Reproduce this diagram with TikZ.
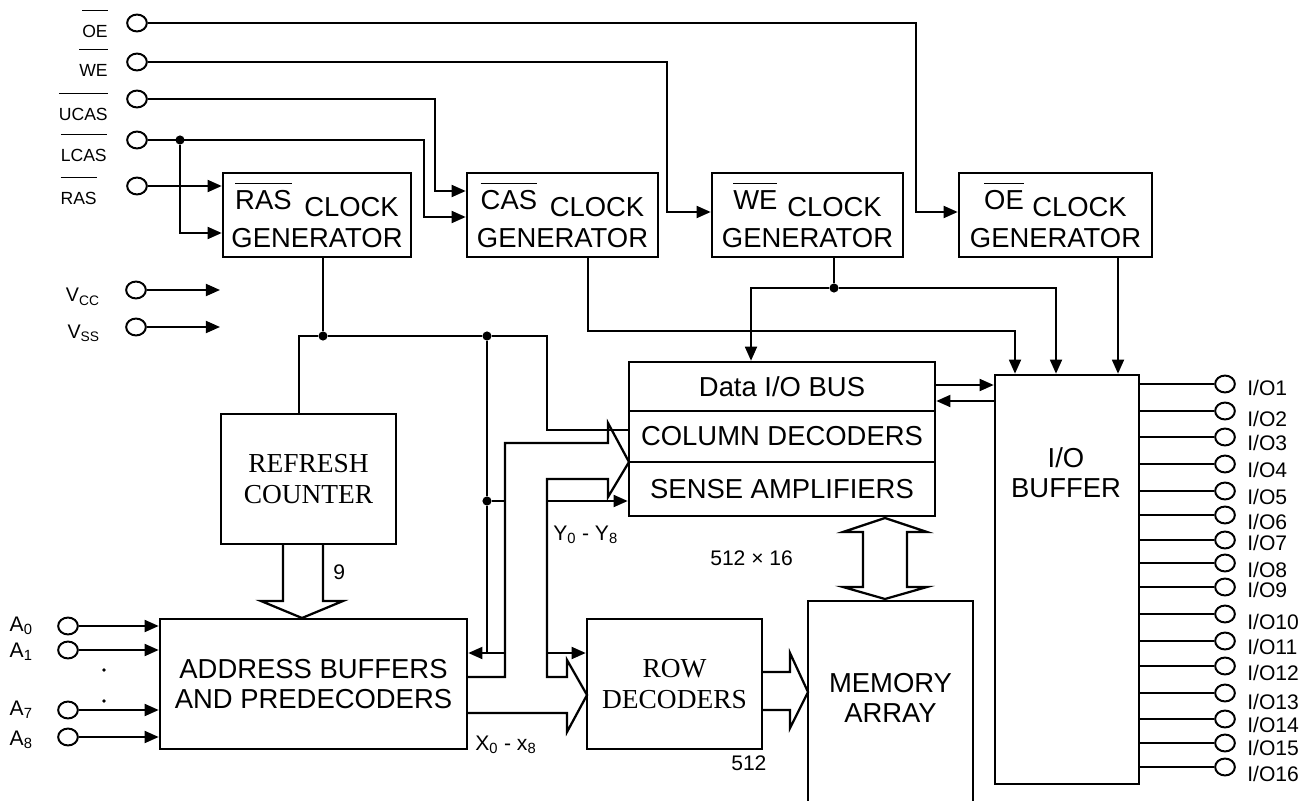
\documentclass[tikz,border=0pt]{standalone}
\usepackage{fontspec}
\setmainfont{Liberation Sans}
\newfontfamily\serifface{Liberation Serif}
\usetikzlibrary{arrows.meta,calc,shapes.geometric}

\newcommand{\ovl}[2][4.5pt]{\vbox{\hrule height 0.9pt\kern#1\hbox{#2}}}
\newcommand{\bigtxt}{\fontsize{19.5}{21.5}\selectfont}
\newcommand{\midtxt}{\fontsize{15}{17}\selectfont}
\newcommand{\sigtxt}{\fontsize{12.5}{14}\selectfont}

\begin{document}
\begin{tikzpicture}[x=0.025cm,y=-0.025cm,
  blk/.style={rectangle,draw,line width=1.8pt,inner sep=0pt,align=center,font=\bigtxt},
  serifblk/.style={blk,font=\serifface\bigtxt},
  pin/.style={ellipse,draw,line width=1.4pt,minimum width=14pt,minimum height=12pt,inner sep=0pt},
  wire/.style={line width=1.4pt},
  arrow/.style={wire,-{Triangle[length=10pt,width=8.5pt]}},
  bus/.style={line width=1.6pt,line join=miter},
  dot/.style={circle,fill,inner sep=0pt,minimum size=6.5pt},
  lbl/.style={inner sep=0pt,font=\midtxt},
  siglbl/.style={inner sep=0pt,font=\sigtxt,anchor=base east}]

\useasboundingbox (0,0) rectangle (1310,801);

% clock generators
\node[blk,minimum width=4.7cm,minimum height=2.1cm] (rasclk) at (317,215)
  {\raisebox{5.5pt}{\ovl{RAS}}\hspace{9pt}CLOCK\\GENERATOR};
\node[blk,minimum width=4.775cm,minimum height=2.1cm] (casclk) at (562.5,215)
  {\raisebox{5.5pt}{\ovl{CAS}}\hspace{9pt}CLOCK\\GENERATOR};
\node[blk,minimum width=4.775cm,minimum height=2.1cm] (weclk) at (807.5,215)
  {\raisebox{5.5pt}{\ovl{WE}}\hspace{7pt}CLOCK\\GENERATOR};
\node[blk,minimum width=4.825cm,minimum height=2.1cm] (oeclk) at (1055.5,215)
  {\raisebox{5.5pt}{\ovl{OE}}\hspace{6pt}CLOCK\\GENERATOR};

% data path blocks
\node[blk,minimum width=7.65cm,minimum height=1.225cm] (dataio) at (782,386.5) {Data I/O BUS};
\node[blk,minimum width=7.65cm,minimum height=1.275cm] (coldec) at (782,436.5) {COLUMN DECODERS};
\node[blk,minimum width=7.65cm,minimum height=1.35cm] (sense) at (782,489) {SENSE AMPLIFIERS};
\node[blk,minimum width=3.6cm,minimum height=10.225cm] (iobuf) at (1067,579.5) {};
\node[font=\bigtxt,align=center,inner sep=0pt] (iobuftxt) at (1066,473) {I/O\\BUFFER};
\node[serifblk,minimum width=4.375cm,minimum height=3.25cm] (refresh) at (308.5,479) {REFRESH\\COUNTER};
\node[blk,minimum width=7.675cm,minimum height=3.25cm] (addr) at (313.5,684) {ADDRESS BUFFERS\\AND PREDECODERS};
\node[serifblk,minimum width=4.375cm,minimum height=3.25cm] (rowdec) at (674.5,684) {ROW\\DECODERS};
\node[font=\bigtxt,align=center,inner sep=0pt] (mem) at (890.5,698) {MEMORY\\ARRAY};
\draw[line width=1.8pt] (808,801) -- (808,601) -- (973,601) -- (973,801);

% control inputs
\foreach \s/\y in {OE/23,WE/62,UCAS/99,LCAS/140,RAS/186}
  \node[pin] (p\s) at (137,\y) {};
\foreach \s/\x/\b in {OE/108/38,WE/108/77,UCAS/108/121,LCAS/107/162,RAS/97/205}
  \node[siglbl] (l\s) at (\x,\b) {\ovl[10.5pt]{\s}};

\coordinate (bOE) at (916,212);
\coordinate (bWE) at (667,212);
\coordinate (bUC) at (435,191);
\coordinate (bLC) at (424,217);
\coordinate (bRL) at (180,233);
\node[dot] (jL) at (180,140) {};
\draw[arrow] (pOE) -| (bOE) -- (oeclk.west |- bOE);
\draw[arrow] (pWE) -| (bWE) -- (weclk.west |- bWE);
\draw[arrow] (pUCAS) -| (bUC) -- (casclk.west |- bUC);
\draw[arrow] (pLCAS) -| (bLC) -- (casclk.west |- bLC);
\draw[arrow] (jL) -- (bRL) -- (rasclk.west |- bRL);
\draw[arrow] (pRAS) -- (rasclk.west |- pRAS);

% supply pins
\node[pin] (pVCC) at (136,290) {};
\node[pin] (pVSS) at (136,327) {};
\node[lbl,anchor=base east,font=\fontsize{14}{16}\selectfont] (lVCC) at (100,302) {V\textsubscript{CC}};
\node[lbl,anchor=base east,font=\fontsize{14}{16}\selectfont] (lVSS) at (100,338) {V\textsubscript{SS}};
\coordinate (eVCC) at (220,290);
\coordinate (eVSS) at (220,327);
\draw[arrow] (pVCC) -- (eVCC);
\draw[arrow] (pVSS) -- (eVSS);

% address pins
\foreach \n/\y/\b in {0/626/631,1/650/657,7/710/715,8/737/745} {
  \node[pin] (pA\n) at (68,\y) {};
  \node[lbl,anchor=base east] (lA\n) at (33,\b) {A\textsubscript{\n}};
  \draw[arrow] (pA\n) -- (addr.west |- pA\n);
}
\node[dot,minimum size=2.5pt] (ad1) at (104,670) {};
\node[dot,minimum size=2.5pt] (ad2) at (104,701) {};

% RAS clock distribution
\node[dot] (jR1) at (323,336) {};
\node[dot] (jR2) at (487,336) {};
\node[dot] (jR3) at (487,501) {};
\coordinate (bCD) at (547,430);
\coordinate (bAB) at (487,653);
\coordinate (bAB2) at (505,653);
\coordinate (bJS) at (506,501);
\coordinate (bSA) at (547,501);
\coordinate (bRD) at (547,653);
\draw[wire] (rasclk.south -| jR1) -- (jR1);
\draw[wire] (jR1) -| (refresh.north -| 299,0);
\draw[wire] (jR1) -- (jR2);
\draw[wire] (jR2) -| (bCD) -- (coldec.west |- bCD);
\draw[wire] (jR2) -- (jR3);
\draw[wire] (jR3) -- (bAB);
\draw[wire] (jR3) -- (bJS);
\draw[arrow] (bAB2) -- (addr.east |- bAB2);
\draw[arrow] (bSA) -- (sense.west |- bSA);
\draw[arrow] (bRD) -- (rowdec.west |- bRD);

% CAS, WE, OE clock outputs
\coordinate (bCA) at (588,331);
\node[dot] (jW) at (834,288) {};
\draw[arrow] (casclk.south -| bCA) -- (bCA) -| (iobuf.north -| 1015,0);
\draw[wire] (weclk.south -| jW) -- (jW);
\draw[arrow] (jW) -| (dataio.north -| 751,0);
\draw[arrow] (jW) -| (iobuf.north -| 1056,0);
\draw[arrow] (oeclk.south -| 1118,0) -- (iobuf.north -| 1118,0);
\draw[arrow] (dataio.east |- 0,385) -- (iobuf.west |- 0,385);
\draw[arrow] (iobuf.west |- 0,401) -- (dataio.east |- 0,401);

% buses
\draw[bus] (283,544) -- (283,601) -- (261,601) -- (302,618) -- (343,601) -- (323,601) -- (323,544);
\draw[bus] (467,713) -- (567,713) -- (567,732) -- (587,695) -- (567,660) -- (567,677) -- (547,677)
  -- (547,479) -- (608,479) -- (608,497) -- (629,462) -- (608,423) -- (608,443) -- (505,443)
  -- (505,677) -- (467,677);
\draw[bus] (763,672) -- (790,672) -- (790,653) -- (808,692) -- (790,728) -- (790,710) -- (763,710);
\draw[bus] (863,532) -- (843,532) -- (885,518) -- (927,532) -- (907,532) -- (907,587) -- (927,587)
  -- (885,599) -- (843,587) -- (863,587) -- cycle;

\node[lbl,anchor=base west] (nine) at (333,579) {9};
\node[lbl,anchor=base west] (ylbl) at (553,540) {Y\textsubscript{0} - Y\textsubscript{8}};
\node[lbl,anchor=base west] (xlbl) at (475,750) {X\textsubscript{0} - x\textsubscript{8}};
\node[lbl,anchor=base west] (org) at (710,565) {512 × 16};
\node[lbl,anchor=base west] (rows) at (731,770) {512};

% I/O pins
\foreach \i/\py/\ly in {1/384/388,2/411/419,3/437/443,4/464/470,5/491/497,6/515/522,
    7/540/543,8/563/570,9/587/590,10/614/622,11/641/647,12/666/673,13/693/702,
    14/719/725,15/743/748,16/767/774} {
  \node[pin] (pIO\i) at (1225,\py) {};
  \draw[wire] (iobuf.east |- pIO\i) -- (pIO\i);
  \node[lbl,anchor=west] (lIO\i) at (1247,\ly) {I/O\i};
}
\end{tikzpicture}
\end{document}
